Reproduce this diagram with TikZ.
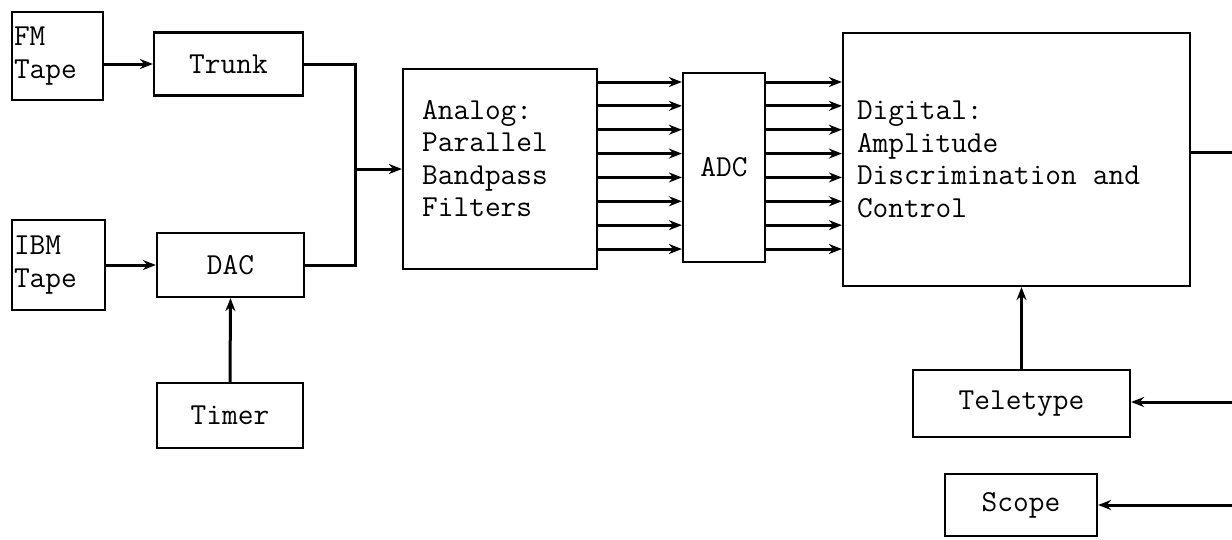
\documentclass[tikz,border=0pt]{standalone}
\usepackage{fontspec}
\usepackage{tikz}
\usetikzlibrary{arrows.meta}
\newcommand\typewriter{\ttfamily\fontsize{30.5}{32.5}\selectfont}

\begin{document}
\begin{tikzpicture}[
            x=1pt, y=-1pt,
            box/.style={draw, line width=2.2pt, inner sep=0pt, font=\typewriter},
            boxtext/.style={inner sep=0pt, align=left, font=\typewriter},
            wire/.style={line width=3pt},
            arr/.style={wire, -{Stealth[length=13pt,width=10pt]}}
        ]
            \useasboundingbox (0,0) rectangle (1232,539);

            % sources
            \node[box, minimum width=91pt, minimum height=88pt,
                  inner xsep=2pt, text width=87pt, align=left] (fmtape) at (57.5,56) {FM\\Tape};
            \node[box, minimum width=93pt, minimum height=90pt,
                  inner xsep=2pt, text width=89pt, align=left] (ibmtape) at (58.5,265) {IBM\\Tape};
            \node[box, minimum width=149pt, minimum height=63pt] (trunk) at (228.5,64) {Trunk};
            \node[box, minimum width=147pt, minimum height=64pt] (dac) at (230.5,265) {DAC};
            \node[box, minimum width=146pt, minimum height=65pt] (timer) at (230,415.5) {Timer};

            % processing chain
            \node[box, minimum width=194pt, minimum height=200pt] (analog) at (500,169) {};
            \node[boxtext, anchor=north west] (analogtext) at (422,100)
                {Analog:\\Parallel\\Bandpass\\Filters};
            \node[box, minimum width=82pt, minimum height=189pt] (adc) at (724,167.5) {ADC};
            \node[box, minimum width=347pt, minimum height=253pt,
                  inner xsep=14pt, text width=319pt, align=left] (digital) at (1016.5,159.5)
                {Digital:\\Amplitude\\Discrimination\hspace{16pt}and\\Control};

            % outputs
            \node[box, minimum width=217pt, minimum height=67pt] (teletype) at (1021.5,403.5) {Teletype};
            \node[box, minimum width=152pt, minimum height=62pt] (scope) at (1021,505) {Scope};

            \coordinate (join) at (355,169);
            \coordinate (edge) at (1232,0);
            \coordinate (ttin) at (1232,402);
            \coordinate (scin) at (1232,505);

            \draw[arr] (fmtape.east |- trunk.west) -- (trunk.west);
            \draw[arr] (ibmtape.east |- dac.west) -- (dac.west);
            \draw[arr] (timer.north) -- (dac.south);
            \draw[wire] (trunk.east) -| (join) |- (dac.east);
            \draw[arr] (join) -- (analog.west);

            \foreach \k in {0,...,7} {
                \draw[arr] (analog.east |- 0,82+23.86*\k) -- (adc.west |- 0,82+23.86*\k);
                \draw[arr] (adc.east |- 0,82+23.86*\k) -- (digital.west |- 0,82+23.86*\k);
            }

            \draw[wire] (digital.east |- 0,152) -- (edge |- 0,152);
            \draw[arr] (teletype.north) -- (teletype.north |- digital.south);
            \draw[arr] (ttin) -- (teletype.east |- ttin);
            \draw[arr] (scin) -- (scope.east);
        \end{tikzpicture}
\end{document}
